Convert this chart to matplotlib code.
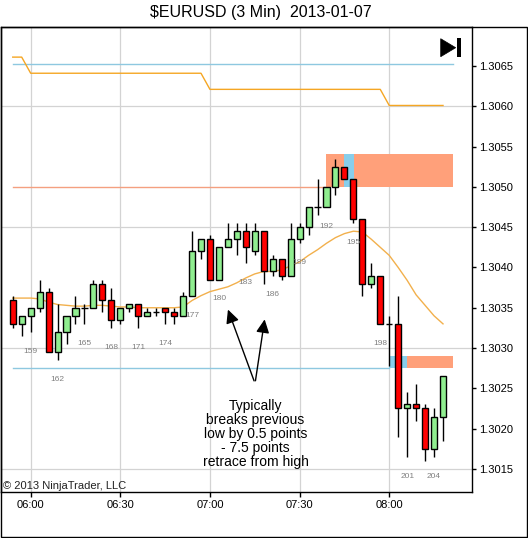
import matplotlib
matplotlib.use("Agg")
import matplotlib.pyplot as plt
from matplotlib.patches import Rectangle, Polygon
from matplotlib.ticker import FormatStrFormatter

plt.rcParams["font.family"] = ["Liberation Sans", "DejaVu Sans"]

# ── data (bar numbers and EURUSD prices) ────────────────
bar_num = list(range(157, 206))
opens = [1.30360, 1.30330, 1.30340, 1.30350, 1.30370, 1.30295, 1.30320, 1.30340, 1.30350, 1.30350,
         1.30380, 1.30360, 1.30335, 1.30350, 1.30355, 1.30340, 1.30345, 1.30350, 1.30345, 1.30340,
         1.30365, 1.30420, 1.30435, 1.30385, 1.30425, 1.30435, 1.30445, 1.30420, 1.30445, 1.30395,
         1.30410, 1.30390, 1.30435, 1.30450, 1.30475, 1.30475, 1.30500, 1.30525, 1.30510, 1.30460,
         1.30380, 1.30390, 1.30330, 1.30330, 1.30225, 1.30230, 1.30225, 1.30175, 1.30215]
highs = [1.30365, 1.30340, 1.30350, 1.30385, 1.30375, 1.30355, 1.30340, 1.30365, 1.30355, 1.30385,
         1.30385, 1.30375, 1.30350, 1.30355, 1.30355, 1.30350, 1.30350, 1.30350, 1.30350, 1.30370,
         1.30445, 1.30435, 1.30440, 1.30425, 1.30455, 1.30455, 1.30455, 1.30455, 1.30445, 1.30415,
         1.30410, 1.30455, 1.30455, 1.30475, 1.30510, 1.30500, 1.30535, 1.30525, 1.30510, 1.30460,
         1.30405, 1.30390, 1.30340, 1.30365, 1.30245, 1.30255, 1.30230, 1.30225, 1.30265]
lows = [1.30325, 1.30315, 1.30320, 1.30345, 1.30295, 1.30285, 1.30305, 1.30330, 1.30330, 1.30350,
        1.30345, 1.30325, 1.30330, 1.30345, 1.30325, 1.30340, 1.30340, 1.30330, 1.30330, 1.30340,
        1.30365, 1.30410, 1.30385, 1.30385, 1.30425, 1.30415, 1.30405, 1.30415, 1.30380, 1.30390,
        1.30385, 1.30390, 1.30430, 1.30440, 1.30465, 1.30475, 1.30490, 1.30510, 1.30455, 1.30365,
        1.30375, 1.30330, 1.30278, 1.30190, 1.30165, 1.30210, 1.30160, 1.30165, 1.30185]
closes = [1.30330, 1.30340, 1.30350, 1.30370, 1.30295, 1.30320, 1.30340, 1.30350, 1.30350, 1.30380,
          1.30360, 1.30335, 1.30350, 1.30355, 1.30340, 1.30345, 1.30345, 1.30345, 1.30340, 1.30365,
          1.30420, 1.30435, 1.30385, 1.30425, 1.30435, 1.30445, 1.30425, 1.30445, 1.30395, 1.30410,
          1.30390, 1.30435, 1.30450, 1.30475, 1.30475, 1.30500, 1.30525, 1.30510, 1.30460, 1.30380,
          1.30390, 1.30330, 1.30330, 1.30225, 1.30230, 1.30225, 1.30175, 1.30215, 1.30265]
ma_line = [1.30362, 1.30362, 1.30362, 1.30361, 1.30357, 1.30354, 1.30353, 1.30352, 1.30352, 1.30353,
           1.30353, 1.30352, 1.30351, 1.30351, 1.30350, 1.30350, 1.30350, 1.30350, 1.30350, 1.30351,
           1.30359, 1.30365, 1.30370, 1.30373, 1.30376, 1.30381, 1.30387, 1.30392, 1.30395, 1.30395,
           1.30397, 1.30402, 1.30407, 1.30415, 1.30422, 1.30430, 1.30437, 1.30442, 1.30445, 1.30444,
           1.30435, 1.30425, 1.30415, 1.30400, 1.30384, 1.30366, 1.30353, 1.30340, 1.30330]
step_line = [1.30661, 1.30661] + [1.30641] * 20 + [1.30621] * 20 + [1.30601] * 7

# horizontal levels: (value, first bar, last bar)
level_vals = [1.30652, 1.30500, 1.30275]
level_start = [157, 157, 157]
level_end = [206.1, 192, 199]

# zones: salmon and blue boxes
zone_x0 = [192, 201, 194, 199]
zone_x1 = [206.1, 206.1, 195.1, 201]
zone_lo = [1.30500, 1.30275, 1.30500, 1.30275]
zone_hi = [1.30541, 1.30290, 1.30541, 1.30290]
zone_kind = ["salmon", "salmon", "blue", "blue"]

time_ticks = [159, 169, 179, 189, 199]
time_labels = ["06:00", "06:30", "07:00", "07:30", "08:00"]
price_ticks = [1.3015, 1.3020, 1.3025, 1.3030, 1.3035, 1.3040, 1.3045,
               1.3050, 1.3055, 1.3060, 1.3065]
grid_prices = [1.3015, 1.3030, 1.3045, 1.3060]

arrow_tail = (184.03, 1.30256)
arrow_heads = [(180.9, 1.30351), (185.15, 1.30339)]
note_text = "Typically\nbreaks previous\nlow by 0.5 points\n- 7.5 points\nretrace from high"

# ── figure ──────────────────────────────────────────────
W, H = 528, 538
fig = plt.figure(figsize=(W / 100, H / 100), dpi=100, facecolor="white")

def fx(px):
    return px / W

def fy(py):
    return 1 - py / H

ax = fig.add_axes([fx(1), fy(492.3), fx(471.7) - fx(1), fy(27.3) - fy(492.3)])
ax.set_xlim(155.69, 208.2)
ax.set_ylim(1.30121, 1.30698)
for sp in ax.spines.values():
    sp.set_color("black")
    sp.set_linewidth(1.0)

# grid
for g in grid_prices:
    ax.axhline(g, color="#d3d3d3", lw=0.9, zorder=0)
for t in time_ticks:
    ax.axvline(t, color="#d3d3d3", lw=0.9, zorder=0)

# zones
zone_colors = {"salmon": "#FFA07A", "blue": "#87CEEB"}
for x0, x1, lo, hi, k in zip(zone_x0, zone_x1, zone_lo, zone_hi, zone_kind):
    ax.add_patch(Rectangle((x0, lo), x1 - x0, hi - lo, facecolor=zone_colors[k],
                           edgecolor="none", zorder=2))

# levels
level_colors = ["#8EC8E0", "#F4A080", "#8EC8E0"]
for v, a, b, c in zip(level_vals, level_start, level_end, level_colors):
    ax.plot([a, b], [v, v], color=c, lw=1.0, zorder=1.5)

ax.plot(bar_num, step_line, color="#F5A623", lw=1.0, zorder=1.6)
ax.plot(bar_num, ma_line, color="#F2B04C", lw=1.0, zorder=3)

# candles
for i, o, h, l, c in zip(bar_num, opens, highs, lows, closes):
    ax.vlines(i, l, h, color="black", lw=1.0, zorder=4)
    if abs(c - o) < 1e-7:
        ax.hlines(o, i - 0.35, i + 0.35, color="black", lw=1.0, zorder=5)
    else:
        col = "#90EE90" if c > o else "#FF0000"
        ax.bar(i, abs(c - o), bottom=min(o, c), width=0.68, color=col,
               edgecolor="black", linewidth=1.0, zorder=5)
    if i % 3 == 0:
        ax.annotate(str(i), xy=(i, l), xytext=(0, -14), textcoords="offset points",
                    ha="center", va="center", fontsize=6, color="#808080", zorder=6)

# axes ticks
ax.set_xticks(time_ticks)
ax.set_xticklabels(time_labels)
ax.tick_params(axis="x", direction="out", length=3.6, width=1, pad=2.3,
               labelsize=8, colors="black")
ax.yaxis.tick_right()
ax.set_yticks(price_ticks)
ax.yaxis.set_major_formatter(FormatStrFormatter("%.4f"))
ax.tick_params(axis="y", direction="out", length=3, width=1, pad=2,
               labelsize=8, colors="black")

# annotation
for hx, hy in arrow_heads:
    ax.annotate("", xy=(hx, hy), xytext=arrow_tail,
                arrowprops=dict(arrowstyle="-|>,head_length=0.45,head_width=0.22",
                                color="black", lw=1.0, mutation_scale=18), zorder=7)
ax.text(184.09, 1.30193, note_text, ha="center", va="center", fontsize=10,
        linespacing=1.0, multialignment="center", zorder=7)

ax.text(0.004, 0.014, "\u00a9 2013 NinjaTrader, LLC", transform=ax.transAxes,
        ha="left", va="center", fontsize=8, color="#222222", zorder=7)

# play-to-end icon
fig.add_artist(Polygon([[fx(440.7), fy(38.7)], [fx(440.7), fy(56.7)], [fx(455.7), fy(47.7)]],
                       closed=True, transform=fig.transFigure, facecolor="black",
                       edgecolor="black", lw=0.5))
fig.add_artist(Rectangle((fx(457.3), fy(56.7)), fx(461.3) - fx(457.3), fy(38.3) - fy(56.7),
                         transform=fig.transFigure, facecolor="black", edgecolor="none"))

# outer frame
fig.add_artist(Rectangle((fx(1), fy(536.7)), fx(527) - fx(1), fy(27.3) - fy(536.7),
                         transform=fig.transFigure, fill=False, edgecolor="black", lw=1.0))

fig.text(fx(260.5), fy(13), "$EURUSD (3 Min)  2013-01-07", ha="center", va="center",
         fontsize=11.5)

fig.savefig("out.png", dpi=100)
